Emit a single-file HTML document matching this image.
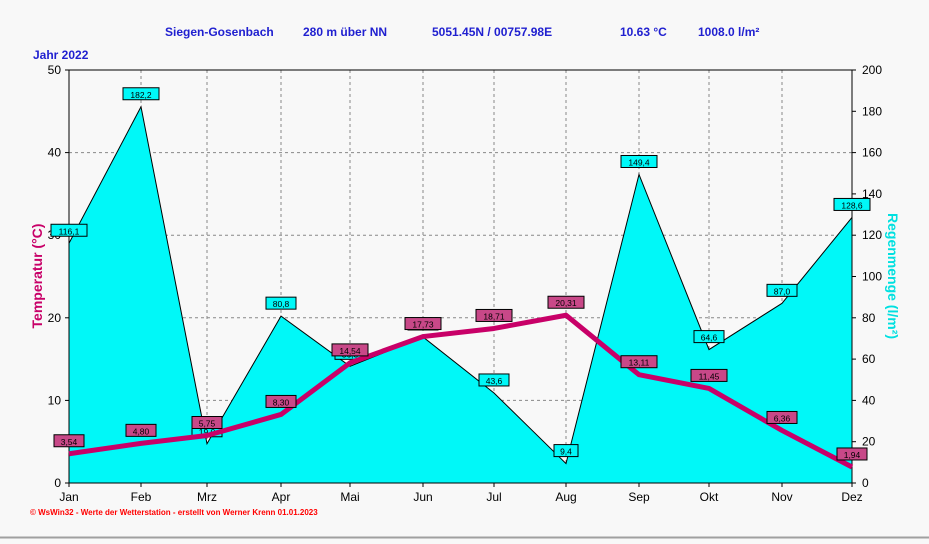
<!DOCTYPE html><html><head><meta charset="utf-8"><style>
body{margin:0;background:#f8f8f8;width:929px;height:539px;overflow:hidden;font-family:"Liberation Sans",sans-serif}
</style></head><body>
<svg id="s" width="929" height="539" xmlns="http://www.w3.org/2000/svg" font-family="Liberation Sans, sans-serif"></svg>
<script>
(function(){
const X=[69,141,207,281,350,423,494,566,639,709,782,852];
const M=["Jan","Feb","Mrz","Apr","Mai","Jun","Jul","Aug","Sep","Okt","Nov","Dez"];
const R=[116.1,182.2,19.0,80.8,56.5,70.7,43.6,9.4,149.4,64.6,87.0,128.6];
const RL=["116,1","182,2","19,0","80,8","56,5","70,7","43,6","9,4","149,4","64,6","87,0","128,6"];
const T=[3.54,4.80,5.75,8.30,14.54,17.73,18.71,20.31,13.11,11.45,6.36,1.94];
const tp=70,bot=483,L=69,Rt=852;
const yr=v=>bot-v*(bot-tp)/200, yt=v=>bot-v*(bot-tp)/50;
let h='';
h+=`<rect width="929" height="539" fill="#f8f8f8"/>`;
for(let i=1;i<5;i++){let y=yt(i*10);h+=`<line x1="${L}" y1="${y}" x2="${Rt}" y2="${y}" stroke="#888" stroke-dasharray="3,3"/>`;}
for(let i=1;i<11;i++)h+=`<line x1="${X[i]}" y1="${tp}" x2="${X[i]}" y2="${bot}" stroke="#888" stroke-dasharray="3,3"/>`;
let p=`${X[0]},${bot} `+X.map((x,i)=>`${x},${yr(R[i])}`).join(' ')+` ${X[11]},${bot}`;
h+=`<polygon points="${p}" fill="#00f8f8" stroke="#000" stroke-width="1"/>`;
h+=`<rect x="${L}" y="${tp}" width="${Rt-L}" height="${bot-tp}" fill="none" stroke="#000"/>`;
for(let i=0;i<=5;i++){let y=yt(i*10);h+=`<line x1="${L-4}" y1="${y}" x2="${L}" y2="${y}" stroke="#000"/><text x="${L-8}" y="${y+4}" font-size="12" text-anchor="end">${i*10}</text>`;}
for(let i=0;i<=10;i++){let y=yr(i*20);h+=`<line x1="${Rt}" y1="${y}" x2="${Rt+4}" y2="${y}" stroke="#000"/><text x="${Rt+10}" y="${y+4}" font-size="12">${i*20}</text>`;}
X.forEach((x,i)=>{h+=`<line x1="${x}" y1="${bot}" x2="${x}" y2="${bot+4}" stroke="#000"/><text x="${x}" y="${bot+18}" font-size="12" text-anchor="middle">${M[i]}</text>`;});
X.forEach((x,i)=>{let y=yr(R[i])-12;let w=RL[i].length*6+6;h+=`<rect x="${x-w/2}" y="${y-7}" width="${w}" height="12" fill="#00f8f8" stroke="#000"/><text x="${x}" y="${y+3}" font-size="8.5" text-anchor="middle">${RL[i]}</text>`;});
h+=`<polyline points="${X.map((x,i)=>`${x},${yt(T[i])}`).join(' ')}" fill="none" stroke="#c80068" stroke-width="5" stroke-linejoin="round"/>`;
X.forEach((x,i)=>{let y=yt(T[i])-12;let s=T[i].toFixed(2).replace('.',',');let w=s.length*6+6;h+=`<rect x="${x-w/2}" y="${y-7}" width="${w}" height="12" fill="#c84888" stroke="#000"/><text x="${x}" y="${y+3}" font-size="8.5" text-anchor="middle">${s}</text>`;});
h+=`<text x="165" y="36" font-size="12" font-weight="bold" fill="#2020d0">Siegen-Gosenbach</text>
<text x="303" y="36" font-size="12" font-weight="bold" fill="#2020d0">280 m über NN</text>
<text x="432" y="36" font-size="12" font-weight="bold" fill="#2020d0">5051.45N / 00757.98E</text>
<text x="620" y="36" font-size="12" font-weight="bold" fill="#2020d0">10.63 °C</text>
<text x="698" y="36" font-size="12" font-weight="bold" fill="#2020d0">1008.0 l/m²</text>
<text x="33" y="59" font-size="12" font-weight="bold" fill="#2020d0">Jahr  2022</text>
<text transform="translate(42,276) rotate(-90)" font-size="14" font-weight="bold" fill="#c80068" text-anchor="middle">Temperatur  (°C)</text>
<text transform="translate(888,276) rotate(90)" font-size="14" font-weight="bold" fill="#00e0e0" text-anchor="middle">Regenmenge  (l/m²)</text>
<text x="30" y="515" font-size="8" fill="#f00" font-weight="bold">© WsWin32  -  Werte der Wetterstation  -  erstellt von Werner Krenn   01.01.2023</text>
<line x1="0" y1="537.5" x2="929" y2="537.5" stroke="#a0a0a0" stroke-width="2"/>`;
document.getElementById('s').innerHTML=h;
})();
</script></body></html>
